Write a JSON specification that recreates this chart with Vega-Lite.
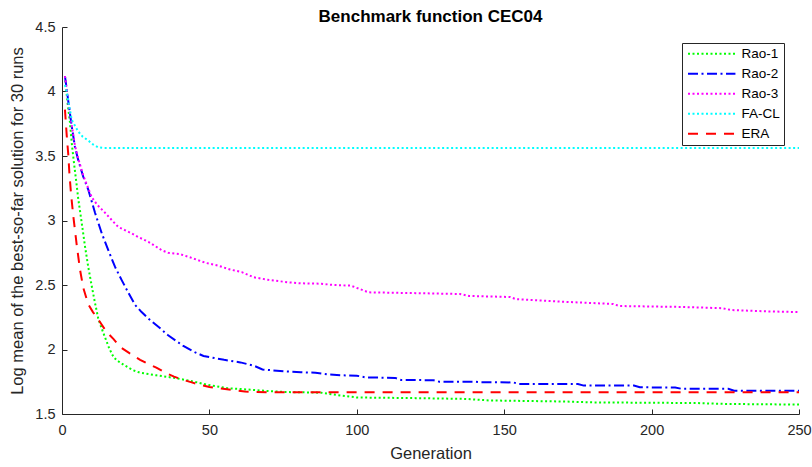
{
  "$schema": "https://vega.github.io/schema/vega-lite/v6.json",
  "width": 737,
  "height": 387,
  "autosize": {"type": "none"},
  "padding": {"left": 62, "top": 27, "right": 13, "bottom": 53},
  "background": "white",
  "config": {
    "view": {"stroke": null},
    "font": "Liberation Sans",
    "axis": {
      "domainColor": "#262626",
      "tickColor": "#262626",
      "labelColor": "#262626",
      "titleColor": "#262626",
      "labelFont": "Liberation Sans",
      "titleFont": "Liberation Sans",
      "labelFontSize": 14.5,
      "titleFontSize": 16.5,
      "titleFontWeight": "normal",
      "grid": false,
      "tickSize": -5,
      "domainWidth": 1,
      "tickWidth": 1
    }
  },
  "title": {
    "text": "Benchmark function CEC04",
    "fontSize": 17,
    "fontWeight": "bold",
    "font": "Liberation Sans",
    "color": "#000000",
    "anchor": "middle",
    "offset": -6.5
  },
  "data": {
    "values": [
      {"s": "Rao-1", "g": 1, "v": 4.12},
      {"s": "Rao-1", "g": 1.9, "v": 3.91},
      {"s": "Rao-1", "g": 2.7, "v": 3.76},
      {"s": "Rao-1", "g": 3.3, "v": 3.6},
      {"s": "Rao-1", "g": 4.2, "v": 3.42},
      {"s": "Rao-1", "g": 5, "v": 3.27},
      {"s": "Rao-1", "g": 5.5, "v": 3.17},
      {"s": "Rao-1", "g": 6.7, "v": 2.98},
      {"s": "Rao-1", "g": 7.8, "v": 2.8},
      {"s": "Rao-1", "g": 8.9, "v": 2.64},
      {"s": "Rao-1", "g": 10.1, "v": 2.49},
      {"s": "Rao-1", "g": 11.2, "v": 2.36},
      {"s": "Rao-1", "g": 12.3, "v": 2.24},
      {"s": "Rao-1", "g": 13.5, "v": 2.16},
      {"s": "Rao-1", "g": 15, "v": 2.07},
      {"s": "Rao-1", "g": 16, "v": 2.01},
      {"s": "Rao-1", "g": 17.5, "v": 1.94},
      {"s": "Rao-1", "g": 19, "v": 1.91},
      {"s": "Rao-1", "g": 21, "v": 1.88},
      {"s": "Rao-1", "g": 24, "v": 1.84},
      {"s": "Rao-1", "g": 26.5, "v": 1.82},
      {"s": "Rao-1", "g": 32, "v": 1.8},
      {"s": "Rao-1", "g": 38, "v": 1.78},
      {"s": "Rao-1", "g": 44, "v": 1.755},
      {"s": "Rao-1", "g": 49, "v": 1.728},
      {"s": "Rao-1", "g": 56, "v": 1.7},
      {"s": "Rao-1", "g": 63, "v": 1.69},
      {"s": "Rao-1", "g": 70, "v": 1.678},
      {"s": "Rao-1", "g": 76, "v": 1.67},
      {"s": "Rao-1", "g": 82, "v": 1.668},
      {"s": "Rao-1", "g": 88, "v": 1.665},
      {"s": "Rao-1", "g": 93, "v": 1.648},
      {"s": "Rao-1", "g": 100, "v": 1.628},
      {"s": "Rao-1", "g": 120, "v": 1.623},
      {"s": "Rao-1", "g": 137, "v": 1.617},
      {"s": "Rao-1", "g": 145, "v": 1.605},
      {"s": "Rao-1", "g": 170, "v": 1.597},
      {"s": "Rao-1", "g": 180, "v": 1.59},
      {"s": "Rao-1", "g": 215, "v": 1.585},
      {"s": "Rao-1", "g": 225, "v": 1.578},
      {"s": "Rao-1", "g": 250, "v": 1.573},

      {"s": "Rao-2", "g": 1, "v": 4.12},
      {"s": "Rao-2", "g": 2.1, "v": 3.93},
      {"s": "Rao-2", "g": 3.3, "v": 3.73},
      {"s": "Rao-2", "g": 4.4, "v": 3.57},
      {"s": "Rao-2", "g": 5.5, "v": 3.47},
      {"s": "Rao-2", "g": 7.2, "v": 3.34},
      {"s": "Rao-2", "g": 8.9, "v": 3.24},
      {"s": "Rao-2", "g": 11.2, "v": 3.06},
      {"s": "Rao-2", "g": 13.5, "v": 2.9},
      {"s": "Rao-2", "g": 15.7, "v": 2.77},
      {"s": "Rao-2", "g": 18, "v": 2.64},
      {"s": "Rao-2", "g": 20.2, "v": 2.54},
      {"s": "Rao-2", "g": 22.5, "v": 2.44},
      {"s": "Rao-2", "g": 24.8, "v": 2.345},
      {"s": "Rao-2", "g": 27, "v": 2.29},
      {"s": "Rao-2", "g": 29.3, "v": 2.24},
      {"s": "Rao-2", "g": 33, "v": 2.17},
      {"s": "Rao-2", "g": 36, "v": 2.11},
      {"s": "Rao-2", "g": 41, "v": 2.03},
      {"s": "Rao-2", "g": 45, "v": 1.98},
      {"s": "Rao-2", "g": 48, "v": 1.95},
      {"s": "Rao-2", "g": 55, "v": 1.92},
      {"s": "Rao-2", "g": 60.5, "v": 1.9},
      {"s": "Rao-2", "g": 65, "v": 1.875},
      {"s": "Rao-2", "g": 68, "v": 1.845},
      {"s": "Rao-2", "g": 76, "v": 1.83},
      {"s": "Rao-2", "g": 81, "v": 1.823},
      {"s": "Rao-2", "g": 86, "v": 1.82},
      {"s": "Rao-2", "g": 90, "v": 1.807},
      {"s": "Rao-2", "g": 95, "v": 1.8},
      {"s": "Rao-2", "g": 100, "v": 1.797},
      {"s": "Rao-2", "g": 103, "v": 1.784},
      {"s": "Rao-2", "g": 113, "v": 1.78},
      {"s": "Rao-2", "g": 115, "v": 1.764},
      {"s": "Rao-2", "g": 126, "v": 1.762},
      {"s": "Rao-2", "g": 128, "v": 1.75},
      {"s": "Rao-2", "g": 140, "v": 1.75},
      {"s": "Rao-2", "g": 142, "v": 1.746},
      {"s": "Rao-2", "g": 153, "v": 1.745},
      {"s": "Rao-2", "g": 155, "v": 1.733},
      {"s": "Rao-2", "g": 175, "v": 1.733},
      {"s": "Rao-2", "g": 177, "v": 1.72},
      {"s": "Rao-2", "g": 194, "v": 1.72},
      {"s": "Rao-2", "g": 196, "v": 1.707},
      {"s": "Rao-2", "g": 208, "v": 1.705},
      {"s": "Rao-2", "g": 210, "v": 1.696},
      {"s": "Rao-2", "g": 226, "v": 1.696},
      {"s": "Rao-2", "g": 228, "v": 1.681},
      {"s": "Rao-2", "g": 250, "v": 1.68},

      {"s": "Rao-3", "g": 1, "v": 4.12},
      {"s": "Rao-3", "g": 2.1, "v": 3.93},
      {"s": "Rao-3", "g": 3.3, "v": 3.74},
      {"s": "Rao-3", "g": 4.4, "v": 3.58},
      {"s": "Rao-3", "g": 5.5, "v": 3.48},
      {"s": "Rao-3", "g": 7.2, "v": 3.35},
      {"s": "Rao-3", "g": 8.9, "v": 3.25},
      {"s": "Rao-3", "g": 10.1, "v": 3.18},
      {"s": "Rao-3", "g": 12, "v": 3.12},
      {"s": "Rao-3", "g": 14.6, "v": 3.06},
      {"s": "Rao-3", "g": 17, "v": 3.0},
      {"s": "Rao-3", "g": 19.1, "v": 2.95},
      {"s": "Rao-3", "g": 23.6, "v": 2.9},
      {"s": "Rao-3", "g": 26, "v": 2.87},
      {"s": "Rao-3", "g": 29.3, "v": 2.835},
      {"s": "Rao-3", "g": 33.8, "v": 2.77},
      {"s": "Rao-3", "g": 36, "v": 2.75},
      {"s": "Rao-3", "g": 40, "v": 2.74},
      {"s": "Rao-3", "g": 44, "v": 2.71},
      {"s": "Rao-3", "g": 49, "v": 2.67},
      {"s": "Rao-3", "g": 53, "v": 2.65},
      {"s": "Rao-3", "g": 57, "v": 2.62},
      {"s": "Rao-3", "g": 61, "v": 2.6},
      {"s": "Rao-3", "g": 65, "v": 2.56},
      {"s": "Rao-3", "g": 70, "v": 2.54},
      {"s": "Rao-3", "g": 77, "v": 2.52},
      {"s": "Rao-3", "g": 81, "v": 2.513},
      {"s": "Rao-3", "g": 88, "v": 2.51},
      {"s": "Rao-3", "g": 92, "v": 2.5},
      {"s": "Rao-3", "g": 98, "v": 2.495},
      {"s": "Rao-3", "g": 102, "v": 2.46},
      {"s": "Rao-3", "g": 104, "v": 2.443},
      {"s": "Rao-3", "g": 120, "v": 2.437},
      {"s": "Rao-3", "g": 135, "v": 2.43},
      {"s": "Rao-3", "g": 138, "v": 2.415},
      {"s": "Rao-3", "g": 152, "v": 2.407},
      {"s": "Rao-3", "g": 154, "v": 2.39},
      {"s": "Rao-3", "g": 170, "v": 2.37},
      {"s": "Rao-3", "g": 187, "v": 2.353},
      {"s": "Rao-3", "g": 189, "v": 2.337},
      {"s": "Rao-3", "g": 210, "v": 2.33},
      {"s": "Rao-3", "g": 224, "v": 2.32},
      {"s": "Rao-3", "g": 227, "v": 2.306},
      {"s": "Rao-3", "g": 240, "v": 2.295},
      {"s": "Rao-3", "g": 250, "v": 2.29},

      {"s": "FA-CL", "g": 1, "v": 4.05},
      {"s": "FA-CL", "g": 1.6, "v": 4.0},
      {"s": "FA-CL", "g": 3.3, "v": 3.78},
      {"s": "FA-CL", "g": 5.5, "v": 3.69},
      {"s": "FA-CL", "g": 7, "v": 3.65},
      {"s": "FA-CL", "g": 8.9, "v": 3.62},
      {"s": "FA-CL", "g": 10.5, "v": 3.59},
      {"s": "FA-CL", "g": 12.3, "v": 3.567},
      {"s": "FA-CL", "g": 14, "v": 3.562},
      {"s": "FA-CL", "g": 100, "v": 3.562},
      {"s": "FA-CL", "g": 200, "v": 3.562},
      {"s": "FA-CL", "g": 250, "v": 3.562},

      {"s": "ERA", "g": 1, "v": 3.86},
      {"s": "ERA", "g": 1.6, "v": 3.66},
      {"s": "ERA", "g": 2.1, "v": 3.52},
      {"s": "ERA", "g": 2.5, "v": 3.37},
      {"s": "ERA", "g": 3.05, "v": 3.21},
      {"s": "ERA", "g": 3.8, "v": 3.04},
      {"s": "ERA", "g": 5, "v": 2.81},
      {"s": "ERA", "g": 6.1, "v": 2.62},
      {"s": "ERA", "g": 7.2, "v": 2.48},
      {"s": "ERA", "g": 8.9, "v": 2.35},
      {"s": "ERA", "g": 10.5, "v": 2.29},
      {"s": "ERA", "g": 12.1, "v": 2.24},
      {"s": "ERA", "g": 15, "v": 2.14},
      {"s": "ERA", "g": 17.5, "v": 2.08},
      {"s": "ERA", "g": 19.7, "v": 2.02},
      {"s": "ERA", "g": 23, "v": 1.97},
      {"s": "ERA", "g": 26.5, "v": 1.92},
      {"s": "ERA", "g": 29, "v": 1.89},
      {"s": "ERA", "g": 32, "v": 1.86},
      {"s": "ERA", "g": 35, "v": 1.82},
      {"s": "ERA", "g": 38, "v": 1.79},
      {"s": "ERA", "g": 41, "v": 1.765},
      {"s": "ERA", "g": 44, "v": 1.745},
      {"s": "ERA", "g": 47, "v": 1.725},
      {"s": "ERA", "g": 50, "v": 1.71},
      {"s": "ERA", "g": 54, "v": 1.697},
      {"s": "ERA", "g": 58, "v": 1.685},
      {"s": "ERA", "g": 62, "v": 1.675},
      {"s": "ERA", "g": 66, "v": 1.67},
      {"s": "ERA", "g": 75, "v": 1.668},
      {"s": "ERA", "g": 150, "v": 1.668},
      {"s": "ERA", "g": 250, "v": 1.668}
    ]
  },
  "mark": {"type": "line", "strokeWidth": 2, "clip": true},
  "encoding": {
    "x": {
      "field": "g",
      "type": "quantitative",
      "scale": {"domain": [0, 250], "nice": false, "zero": false},
      "axis": {
        "title": "Generation",
        "values": [0, 50, 100, 150, 200, 250],
        "labelPadding": 14,
        "titlePadding": 9,
        "labelFlush": false
      }
    },
    "y": {
      "field": "v",
      "type": "quantitative",
      "scale": {"domain": [1.5, 4.5], "nice": false, "zero": false},
      "axis": {
        "title": "Log mean of the best-so-far solution for 30 runs",
        "values": [1.5, 2, 2.5, 3, 3.5, 4, 4.5],
        "format": "~g",
        "labelPadding": 12,
        "titlePadding": 9,
        "labelFlush": false
      }
    },
    "color": {
      "field": "s",
      "type": "nominal",
      "sort": ["Rao-1", "Rao-2", "Rao-3", "FA-CL", "ERA"],
      "scale": {
        "domain": ["Rao-1", "Rao-2", "Rao-3", "FA-CL", "ERA"],
        "range": ["#00FF00", "#0000FF", "#FF00FF", "#00FFFF", "#FF0000"]
      },
      "legend": {
        "title": null,
        "orient": "none",
        "legendX": 620,
        "legendY": 16,
        "strokeColor": "#262626",
        "fillColor": "white",
        "padding": 4,
        "symbolType": "M-1,0H9",
        "symbolSize": 90,
        "symbolStrokeWidth": 2,
        "labelFontSize": 13.5,
        "labelFont": "Liberation Sans",
        "labelColor": "#000000",
        "labelOffset": 42,
        "rowPadding": 5
      }
    },
    "strokeDash": {
      "field": "s",
      "type": "nominal",
      "sort": ["Rao-1", "Rao-2", "Rao-3", "FA-CL", "ERA"],
      "scale": {
        "domain": ["Rao-1", "Rao-2", "Rao-3", "FA-CL", "ERA"],
        "range": [[2, 2.5], [10, 3.5, 2, 3.5], [2, 2.5], [2, 2.5], [10, 8]]
      },
      "legend": null
    }
  }
}
